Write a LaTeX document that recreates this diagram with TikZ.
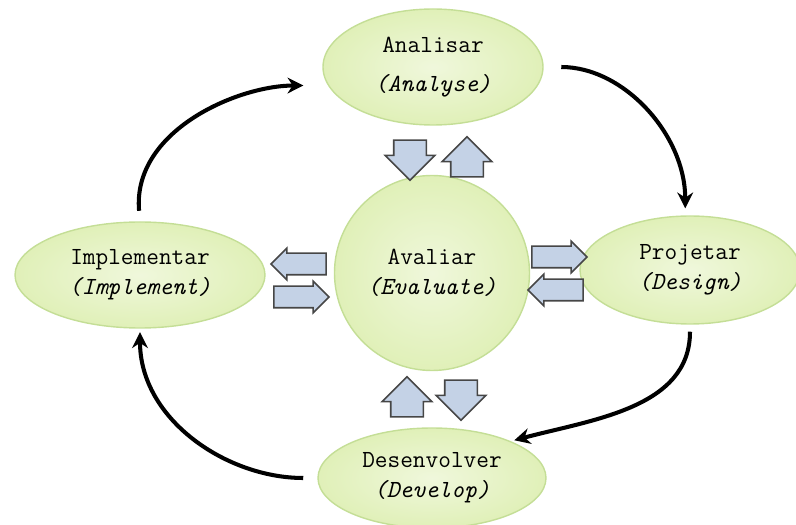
\documentclass[tikz,border=0pt]{standalone}
\usepackage{tikz}
\usetikzlibrary{shapes.geometric,shapes.arrows,arrows.meta}
\definecolor{stagefill}{RGB}{224,240,184}
\definecolor{stageline}{RGB}{196,222,150}
\definecolor{boxfill}{RGB}{196,210,230}
\definecolor{boxline}{RGB}{70,70,70}

\begin{document}
\begin{tikzpicture}[
  stage/.style={ellipse, draw=stageline, line width=0.8pt, inner color=stagefill!50, outer color=stagefill, inner sep=0pt, align=center, font=\fontsize{14}{17}\selectfont\ttfamily},
  flow/.style={single arrow, draw=boxline, line width=0.9pt, fill=boxfill, inner xsep=0pt},
  hflow/.style={flow, minimum height=1.1cm, inner ysep=0.2cm, single arrow head extend=0.1cm},
  vflow/.style={flow, minimum height=0.8cm, inner ysep=0.31cm, single arrow head extend=0.17cm},
  cyclearrow/.style={line width=2.3pt, -{Stealth[length=9pt,width=9pt]}}
]
\useasboundingbox (0,0) rectangle (15.92,10.5);

% the five stages
\node[stage, minimum width=4.4cm, minimum height=2.32cm] (ana) at (8.66,9.16) {Analisar\\[5pt]\textit{(Analyse)}};
\node[stage, circle, minimum size=3.9cm] (eval) at (8.64,5.04) {Avaliar\\\textit{(Evaluate)}};
\node[stage, minimum width=4.4cm, minimum height=2.16cm] (proj) at (13.8,5.1) {Projetar\\\textit{(Design)}};
\node[stage, minimum width=5.0cm, minimum height=2.12cm] (impl) at (2.8,5.0) {Implementar\\\textit{(Implement)}};
\node[stage, minimum width=4.56cm, minimum height=2.0cm] (dev) at (8.64,0.94) {Desenvolver\\\textit{(Develop)}};

% exchange with the evaluation
\node[vflow, rotate=270] (anadown) at (8.2,7.46) {};
\node[vflow, rotate=90] (anaup) at (9.34,7.2) {};
\node[hflow, rotate=180] (impleft) at (6.08,5.22) {};
\node[hflow] (impright) at (5.92,4.56) {};
\node[hflow] (projright) at (11.08,5.36) {};
\node[hflow, rotate=180] (projleft) at (11.22,4.7) {};
\node[vflow, rotate=90] (devup) at (8.14,2.4) {};
\node[vflow, rotate=270] (devdown) at (9.22,2.66) {};

% the cycle
\draw[cyclearrow, shorten <=6pt, shorten >=14pt] (impl.north) to[out=95, in=180] (ana.190);
\draw[cyclearrow, shorten <=10pt, shorten >=4pt] (ana.east) to[out=0, in=90] (proj.95);
\draw[cyclearrow, shorten <=4pt, shorten >=2pt] (proj.south) to[out=-90, in=15] (dev.25);
\draw[cyclearrow, shorten <=8pt, shorten >=2pt] (dev.west) to[out=180, in=-90] (impl.south);
\end{tikzpicture}
\end{document}
